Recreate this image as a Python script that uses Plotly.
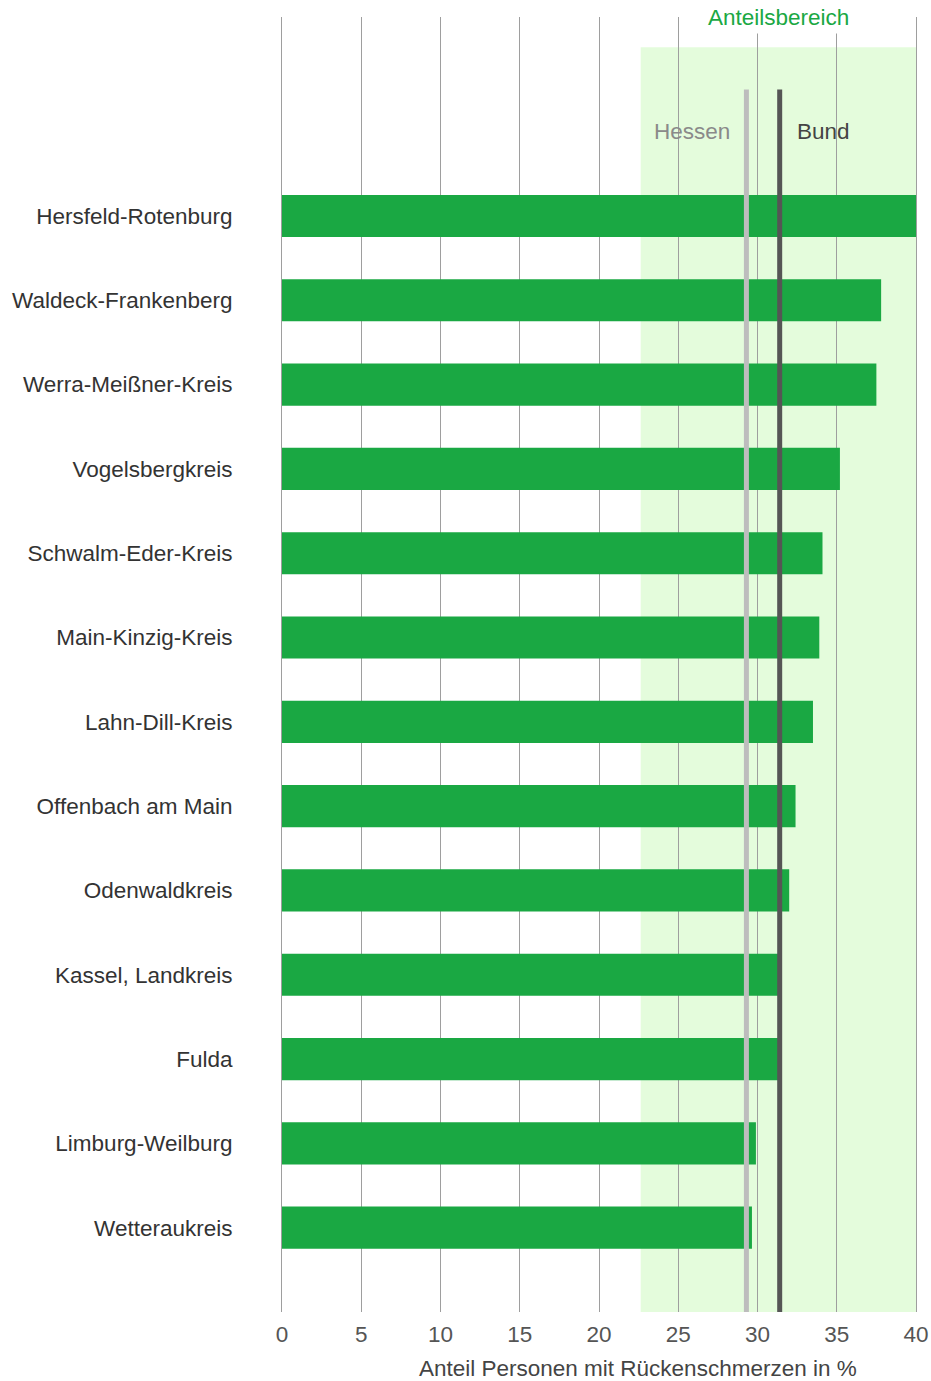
import plotly.graph_objects as go

# Kreise, von unten nach oben
kreise = [
    "Wetteraukreis", "Limburg-Weilburg", "Fulda", "Kassel, Landkreis",
    "Odenwaldkreis", "Offenbach am Main", "Lahn-Dill-Kreis", "Main-Kinzig-Kreis",
    "Schwalm-Eder-Kreis", "Vogelsbergkreis", "Werra-Meißner-Kreis",
    "Waldeck-Frankenberg", "Hersfeld-Rotenburg",
]
anteil = [29.65, 29.9, 31.4, 31.4, 32.0, 32.4, 33.5, 33.9, 34.1, 35.2, 37.5, 37.8, 40.0]

hessen = 29.3
bund = 31.4
bereich = [22.63, 40.0]

x_ticks = [0, 5, 10, 15, 20, 25, 30, 35, 40]

GRUEN = "#1aa843"
GRID = "#9e9e9e"
FONT = "Liberation Sans, Arial, sans-serif"
FS = 22.5

W, H = 931, 1381
ML, MR, MT, MB = 282, 15, 17, 69
plot_h = H - MT - MB

fig = go.Figure()

fig.add_trace(go.Bar(
    x=anteil, y=kreise, orientation="h",
    marker=dict(color=GRUEN, line=dict(width=0)),
    width=0.5, hoverinfo="x+y",
))

# Anteilsbereich hinterlegt
fig.add_shape(type="rect", xref="x", yref="y",
              x0=bereich[0], x1=bereich[1], y0=-1, y1=14.0,
              fillcolor="#e4fcdc", line=dict(width=0), layer="below")

# Referenzlinien Hessen / Bund
fig.add_shape(type="line", xref="x", yref="y", x0=hessen, x1=hessen, y0=-1, y1=13.5,
              line=dict(color="#bdbdbd", width=5), layer="above")
fig.add_shape(type="line", xref="x", yref="y", x0=bund, x1=bund, y0=-1, y1=13.5,
              line=dict(color="#555555", width=5), layer="above")

fig.add_annotation(x=hessen, y=13.0, xref="x", yref="y", text="Hessen",
                   showarrow=False, xanchor="right", xshift=-14,
                   font=dict(family=FONT, size=FS, color="#8a8a8a"))
fig.add_annotation(x=bund, y=13.0, xref="x", yref="y", text="Bund",
                   showarrow=False, xanchor="left", xshift=15,
                   font=dict(family=FONT, size=FS, color="#444444"))
fig.add_annotation(x=(bereich[0] + bereich[1]) / 2, y=1, xref="x", yref="paper",
                   text="Anteilsbereich", showarrow=False, yanchor="middle",
                   bgcolor="white", borderpad=3,
                   font=dict(family=FONT, size=FS, color=GRUEN))

# Achsentitel leicht nach rechts versetzt wie im Original
fig.add_annotation(x=0.561, y=-56 / plot_h, xref="paper", yref="paper",
                   text="Anteil Personen mit Rückenschmerzen in %",
                   showarrow=False, yanchor="middle",
                   font=dict(family=FONT, size=FS, color="#444444"))

fig.update_layout(
    width=W, height=H,
    margin=dict(l=ML, r=MR, t=MT, b=MB),
    paper_bgcolor="white", plot_bgcolor="white",
    showlegend=False, bargap=0.5,
    font=dict(family=FONT, size=FS, color="#444444"),
)

fig.update_xaxes(
    range=[0, 40], tickvals=x_ticks, showgrid=True, automargin=False,
    gridcolor=GRID, gridwidth=1, zeroline=False, showline=False,
    ticks="outside", ticklen=2, tickcolor="rgba(0,0,0,0)",
    tickfont=dict(family=FONT, size=FS, color="#555555"),
)
fig.update_yaxes(
    type="category", categoryorder="array", categoryarray=kreise,
    range=[-1, 14.36], showgrid=False, zeroline=False, automargin=False,
    showline=True, mirror=True, linecolor=GRID, linewidth=1,
    ticks="outside", ticklen=44, tickcolor="rgba(0,0,0,0)",
    tickfont=dict(family=FONT, size=FS, color="#333333"),
)

# Seitenrand entfernen, damit das Diagramm genau ins Fenster passt
fig.write_html("out.html", config={"displayModeBar": False},
               post_script="document.body.style.margin='0';")
